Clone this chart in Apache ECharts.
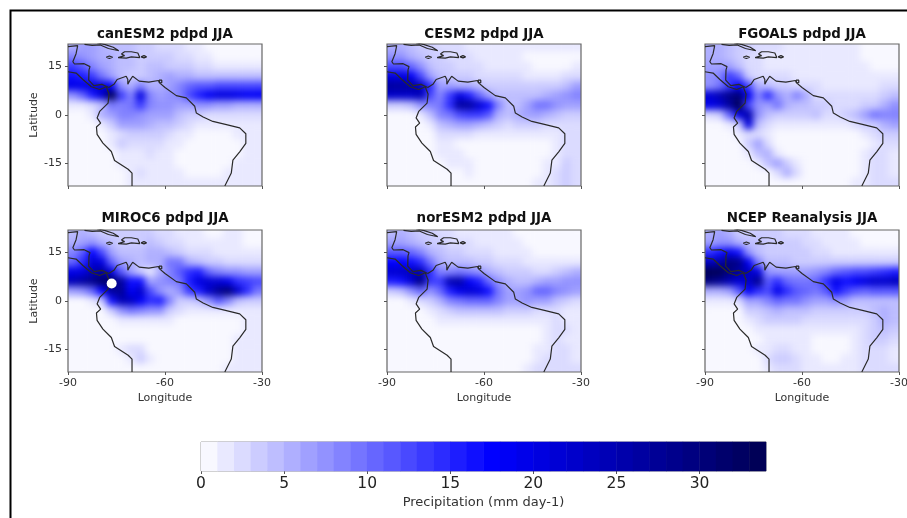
<!DOCTYPE html>
<html><head><meta charset="utf-8">
<style>
html,body{margin:0;padding:0;background:#fff;width:907px;height:518px;overflow:hidden}
#wrap{position:absolute;left:0;top:0;width:907px;height:518px;
clip-path:path('M68 44H262V186H68Z M387 44H581V186H387Z M705 44H899V186H705Z M68 230H262V372H68Z M387 230H581V372H387Z M705 230H899V372H705Z')}
#fields{position:absolute;left:0;top:0;width:907px;height:518px;filter:blur(3.6px)}
#overlay{position:absolute;left:0;top:0;width:907px;height:518px;filter:blur(0.55px)}
</style>
<script src="https://cdn.jsdelivr.net/npm/echarts@6/dist/echarts.min.js"></script>
</head><body>
<div id="wrap"><div id="fields"></div></div>
<div id="overlay"></div>
<script>
const longitudes=[-88.5,-85.5,-82.5,-79.5,-76.5,-73.5,-70.5,-67.5,-64.5,-61.5,-58.5,-55.5,-52.5,-49.5,-46.5,-43.5,-40.5,-37.5,-34.5,-31.5];
const latitudes=[21,18,15,12,9,6,3,0,-3,-6,-9,-12,-15,-18,-21];
const panelTitles=['canESM2 pdpd JJA','CESM2 pdpd JJA','FGOALS pdpd JJA','MIROC6 pdpd JJA','norESM2 pdpd JJA','NCEP Reanalysis JJA'];
const canESM2=[
[5,6,6,5,4,4,4,3,3,2,2,2,1,1,0,0,0,0,0,0],
[8,7,6,5,5,4,4,3,3,3,3,2,2,1,1,0,0,0,0,0],
[13,11,8,6,5,4,4,3,4,4,3,3,3,2,2,1,1,1,1,1],
[16,15,13,9,6,4,3,3,4,5,6,5,5,4,4,4,4,4,4,4],
[19,19,20,21,17,7,5,8,5,5,6,8,10,11,11,12,12,12,12,12],
[7,10,15,21,34,13,8,20,8,6,7,8,12,15,18,20,20,19,18,18],
[1,1,2,4,9,8,9,13,8,7,7,6,6,7,7,6,6,5,5,5],
[0,0,1,5,6,8,8,7,6,6,6,4,3,3,2,2,2,2,2,2],
[0,0,0,1,3,6,6,6,5,4,4,3,2,1,1,1,1,1,1,1],
[0,0,0,0,1,2,3,3,3,3,2,1,1,0,0,0,0,1,1,1],
[0,0,0,0,1,3,2,2,2,2,1,1,0,0,0,0,0,0,1,1],
[0,0,0,0,0,1,1,1,2,1,1,0,0,0,0,0,0,0,1,1],
[0,0,0,0,0,1,1,1,1,1,1,0,0,0,0,0,0,1,1,1],
[0,0,0,0,0,0,1,2,1,1,1,1,0,0,0,0,1,1,1,1],
[0,0,0,0,0,0,1,1,1,1,1,1,1,1,1,1,1,1,1,1]];
const CESM2=[
[5,5,4,3,3,2,2,2,1,1,1,1,1,1,1,1,1,1,1,1],
[7,7,5,4,3,3,2,2,2,1,1,1,1,1,0,0,0,0,0,0],
[12,12,10,7,4,3,3,2,2,2,1,1,1,1,1,0,0,0,0,1],
[20,20,18,12,6,4,3,3,3,2,2,2,2,2,1,1,1,1,2,2],
[26,26,26,23,14,6,6,5,5,4,3,3,3,3,3,3,3,3,4,6],
[22,22,22,24,12,8,13,20,15,10,6,4,4,4,4,4,5,6,7,8],
[3,3,4,7,8,9,14,26,26,21,16,8,4,4,6,9,9,7,6,6],
[0,0,0,1,4,8,9,12,13,13,11,5,4,5,6,6,5,4,3,3],
[0,0,0,0,1,4,5,6,6,5,4,3,2,3,3,3,2,2,2,2],
[0,0,0,0,0,2,2,2,2,1,1,1,1,1,1,1,1,1,2,2],
[0,0,0,0,0,1,1,0,0,0,0,0,0,0,0,0,0,1,2,2],
[0,0,0,0,0,1,1,1,0,0,0,0,0,0,0,0,0,1,2,2],
[0,0,0,0,0,0,1,1,1,0,0,0,0,0,0,0,1,1,3,2],
[0,0,0,0,0,0,0,0,1,0,0,0,0,0,0,0,1,2,3,2],
[0,0,0,0,0,0,0,0,0,0,0,0,0,0,0,1,1,2,3,2]];
const FGOALS=[
[5,5,4,3,3,2,2,2,1,1,1,1,1,1,1,1,0,0,0,0],
[5,5,4,3,2,2,1,1,1,1,1,1,1,1,1,1,0,0,0,0],
[6,6,6,4,2,2,1,1,1,1,1,1,1,1,1,1,1,0,0,0],
[7,8,13,10,3,2,2,2,2,1,1,1,1,1,1,1,1,1,1,1],
[7,9,13,18,12,5,4,3,3,2,2,2,1,1,1,1,1,1,2,2],
[21,24,28,30,18,8,14,7,5,8,5,2,2,2,2,2,2,2,3,4],
[19,21,26,33,12,7,6,9,5,4,4,3,3,2,2,2,3,3,5,7],
[2,3,10,20,25,7,4,3,3,3,3,4,2,2,3,4,6,9,8,8],
[0,0,1,3,20,4,2,1,1,1,1,1,1,1,1,2,3,3,5,6],
[0,0,0,1,2,2,1,0,0,0,0,0,0,0,0,0,1,2,3,3],
[0,0,0,0,3,6,2,0,0,0,0,0,0,0,0,0,0,1,2,2],
[0,0,0,0,1,4,5,1,0,0,0,0,0,0,0,0,1,2,2,1],
[0,0,0,0,0,1,4,6,3,1,0,0,0,0,0,0,1,2,2,1],
[0,0,0,0,0,0,0,2,5,2,0,0,0,0,0,0,1,2,2,1],
[0,0,0,0,0,0,0,0,0,0,0,0,0,0,0,1,1,2,2,2]];
const MIROC6=[
[4,5,4,3,3,3,3,3,3,2,2,1,1,1,0,0,1,1,0,0],
[5,6,7,5,4,3,3,3,4,3,2,2,1,1,1,1,1,1,0,0],
[8,11,17,12,6,4,4,4,5,5,4,3,2,2,2,1,1,1,1,1],
[10,14,21,20,10,6,5,4,5,5,9,9,5,4,3,3,2,2,2,2],
[19,20,24,26,20,11,6,3,1,5,8,11,14,15,10,8,7,7,6,6],
[24,26,28,31,32,26,16,16,6,7,8,9,15,20,21,21,19,14,13,12],
[6,7,10,17,26,27,18,22,12,7,5,7,13,15,22,27,30,22,14,9],
[0,0,1,3,16,24,23,18,14,15,8,3,3,4,7,11,8,4,3,3],
[0,0,0,0,3,7,9,8,7,7,3,2,1,1,1,1,1,1,1,1],
[0,0,0,0,0,1,1,1,1,1,1,0,0,0,0,0,0,0,1,1],
[0,0,0,0,0,0,0,0,0,0,0,0,0,0,0,0,0,0,1,1],
[0,0,0,0,0,0,0,0,0,0,0,0,0,0,0,0,0,1,1,1],
[0,0,0,0,0,1,2,2,0,0,0,0,0,0,0,0,0,1,1,1],
[0,0,0,0,0,0,1,3,1,0,0,0,0,0,0,0,0,1,1,1],
[0,0,0,0,0,0,0,0,0,0,0,0,0,0,0,0,1,1,1,1]];
const norESM2=[
[4,5,4,3,3,2,2,1,1,1,1,1,1,0,0,0,0,0,0,0],
[6,6,5,4,3,3,2,2,2,1,1,1,1,1,0,0,0,0,0,0],
[11,11,10,8,5,4,3,3,2,2,2,1,1,1,1,0,0,0,0,0],
[17,17,16,14,9,5,4,4,4,3,3,2,2,2,1,1,1,1,1,1],
[21,22,23,24,14,8,8,9,8,7,5,4,3,3,3,2,2,3,4,5],
[15,16,21,29,13,13,24,25,18,15,10,7,5,4,4,5,6,6,7,7],
[3,4,7,10,7,10,15,19,21,20,16,9,6,6,7,10,10,8,7,6],
[0,0,1,2,3,5,8,9,10,10,10,8,6,6,7,6,6,4,3,2],
[0,0,0,0,1,2,3,4,4,4,4,4,3,3,3,2,2,2,1,1],
[0,0,0,0,0,1,1,1,1,1,1,1,1,1,1,1,1,2,1,1],
[0,0,0,0,0,0,0,0,0,0,0,0,0,0,0,0,1,2,2,1],
[0,0,0,0,0,0,0,0,0,0,0,0,0,0,0,0,1,2,1,1],
[0,0,0,0,0,0,0,0,0,0,0,0,0,0,0,1,1,2,2,1],
[0,0,0,0,0,0,0,0,0,0,0,0,0,0,0,1,2,2,2,1],
[0,0,0,0,0,0,0,0,0,0,0,0,0,0,1,2,2,2,2,2]];
const NCEP=[
[5,6,5,3,3,3,3,3,2,2,2,1,1,1,1,0,0,0,0,0],
[6,7,7,5,4,4,3,3,3,3,2,2,1,1,1,1,0,0,0,0],
[14,16,19,16,7,4,3,3,3,3,3,2,2,1,1,1,1,1,1,1],
[23,25,29,28,18,8,4,4,4,3,3,3,3,3,3,3,3,3,3,3],
[33,33,29,26,23,20,7,6,6,6,6,7,8,10,11,12,12,13,14,15],
[29,27,24,21,22,28,11,14,10,9,9,10,14,19,16,18,20,22,22,23],
[5,5,6,11,18,14,12,19,14,11,10,9,11,16,13,11,10,11,11,11],
[1,1,1,2,6,6,8,10,9,9,7,6,6,7,6,4,4,4,4,4],
[0,0,0,0,3,3,4,5,4,4,4,3,3,3,3,3,3,4,5,4],
[0,0,0,0,1,2,3,3,3,3,2,2,2,2,2,2,2,3,5,4],
[0,0,0,0,0,1,1,1,1,1,1,1,1,1,1,1,2,3,4,3],
[0,0,0,0,0,0,1,1,1,1,1,0,0,0,0,1,2,3,3,2],
[0,0,0,0,0,1,1,2,2,1,1,0,0,0,0,1,2,2,2,1],
[0,0,0,0,0,0,2,3,3,2,1,1,0,0,1,1,2,2,2,1],
[0,0,0,0,0,0,1,2,2,2,1,1,1,1,1,1,2,2,2,2]];
const panelFields=[canESM2,CESM2,FGOALS,MIROC6,norESM2,NCEP];
const saturatedSpot=[[-76.5,5.4]];
const colourbarLevels=[0,1,2,3,4,5,6,7,8,9,10,11,12,13,14,15,16,17,18,19,20,21,22,23,24,25,26,27,28,29,30,31,32,33];
const colourbarTicks=[0,5,10,15,20,25,30];
const lonTicks=[-90,-60,-30];
const latTicks=[-15,0,15];
const coastSouthAmericaPacific=[[-70.2,-22],[-70.2,-18],[-71.4,-16.8],[-75.6,-14.1],[-76.6,-11.3],[-79.2,-8.7],[-81,-6],[-81.2,-3.7],[-79.9,-2.5],[-81,-0.9],[-80.2,1.1],[-77.6,3.7],[-77.3,6.5],[-77.9,8],[-78.1,8.75],[-80.2,7.9],[-82.8,8.75],[-85.4,11],[-87.5,13],[-90,13.4]];
const coastCaribbeanIsthmus=[[-77.4,8.5],[-79.5,9.5],[-82,9.1],[-83.6,10.8],[-83.5,14],[-83.2,15],[-85,15.9],[-88,15.8],[-88.5,16.5],[-87.5,19],[-87,21.5],[-90,21.2]];
const coastAtlantic=[[-77.4,8.5],[-75.8,9.5],[-74.8,11],[-72,12],[-71.5,11],[-71.5,9.5],[-71,10.5],[-70,12],[-68,10.5],[-65,10.2],[-62,10.7],[-61.5,9.8],[-60,8.5],[-56.5,6],[-53.4,5.3],[-50.8,2.7],[-50.3,0.6],[-48.2,-0.6],[-45.2,-2],[-41,-3],[-36.9,-4],[-35,-5.8],[-35,-8.8],[-36.9,-11.4],[-39,-14],[-39.5,-18],[-41.5,-22]];
const coastTrinidad=[[-61.8,10],[-61,10],[-61,10.8],[-61.8,10.8],[-61.8,10]];
const coastCuba=[[-84.9,21.9],[-82.5,21.6],[-80,21.7],[-77.5,20.6],[-74.3,19.9],[-74.2,20.3],[-76,21],[-78.5,21.8],[-81,22.4]];
const coastHispaniola=[[-73.5,18.9],[-72.5,19.6],[-70.4,19.6],[-68.4,19.2],[-67.8,17.8],[-70.4,18],[-72,17.6],[-74.5,17.8],[-72.5,18.4],[-73.5,18.9]];
const coastJamaica=[[-78.2,17.9],[-77.2,18.3],[-76.2,17.9],[-77.2,17.5],[-78.2,17.9]];
const coastPuertoRico=[[-67.4,18],[-66.5,18.4],[-65.7,18],[-66.5,17.7],[-67.4,18]];
const coastlines=[coastSouthAmericaPacific,coastCaribbeanIsthmus,coastAtlantic,coastTrinidad,coastCuba,coastHispaniola,coastJamaica,coastPuertoRico];

const plotLefts=[68,387,705], plotTops=[44,230], titleCentres=[35,219], plotW=194, plotH=142;
const mapColours=['#f8f8ff','#0000ff','#00004d'];
const FONT='DejaVu Sans';
const cellPx=plotW/20, rowPx=plotH/14.667;
const fields=echarts.init(document.getElementById('fields'));
const overlay=echarts.init(document.getElementById('overlay'));
const lonCats=[-91.5,...longitudes,-28.5], latCats=[24,...latitudes,-24];
const clamp=(v,n)=>Math.max(0,Math.min(n-1,v));
const fg={grid:[],xAxis:[],yAxis:[],series:[]};
const ov={title:[],grid:[],xAxis:[],yAxis:[],series:[]};
panelFields.forEach((f,p)=>{
  const row=p<3?0:1,L=plotLefts[p%3],T=plotTops[row];
  fg.grid.push({left:L-cellPx,top:T-rowPx*1.1667,width:plotW+2*cellPx,height:rowPx*17,outerBoundsMode:'none'});
  fg.xAxis.push({type:'category',gridIndex:p,data:lonCats,show:false});
  fg.yAxis.push({type:'category',gridIndex:p,data:latCats,inverse:true,show:false});
  const d=[];
  lonCats.forEach((_,i)=>latCats.forEach((_,j)=>{
    d.push([i,j,f[clamp(j-1,latitudes.length)][clamp(i-1,longitudes.length)]]);
  }));
  fg.series.push({type:'heatmap',xAxisIndex:p,yAxisIndex:p,data:d,progressive:0,animation:false});
  const bottom=p>=3,left=p%3===0;
  ov.title.push({text:panelTitles[p],left:L+plotW/2,top:titleCentres[row]-7,textAlign:'center',padding:0,
    textStyle:{fontFamily:FONT,fontWeight:'bold',fontSize:13.4,color:'#111'}});
  ov.grid.push({left:L,top:T,width:plotW,height:plotH,show:true,borderColor:'#666',borderWidth:1.2,backgroundColor:'transparent',outerBoundsMode:'none'});
  ov.xAxis.push({type:'value',gridIndex:p,min:-90,max:-30,interval:30,position:'bottom',
    name:bottom?'Longitude':'',nameLocation:'middle',nameGap:21,nameTextStyle:{fontFamily:FONT,fontSize:11,color:'#333'},
    axisLine:{show:false,onZero:false},splitLine:{show:false},
    axisTick:{show:true,length:3,lineStyle:{color:'#555'}},
    axisLabel:{show:bottom,fontFamily:FONT,fontSize:11,color:'#333',margin:6,customValues:lonTicks}});
  ov.yAxis.push({type:'value',gridIndex:p,min:-22,max:22,position:'left',
    name:left?'Latitude':'',nameLocation:'middle',nameGap:28,nameRotate:90,nameTextStyle:{fontFamily:FONT,fontSize:11,color:'#333'},
    axisLine:{show:false,onZero:false},splitLine:{show:false},
    axisTick:{show:true,length:3,lineStyle:{color:'#555'},customValues:latTicks},
    axisLabel:{show:left,fontFamily:FONT,fontSize:11,color:'#333',margin:6,customValues:latTicks}});
  coastlines.forEach(c=>ov.series.push({type:'line',xAxisIndex:p,yAxisIndex:p,data:c,showSymbol:false,symbol:'none',silent:true,
    lineStyle:{color:'#2a2a2a',width:1.2},clip:true,animation:false,z:3}));
  if(p===3) ov.series.push({type:'scatter',xAxisIndex:p,yAxisIndex:p,data:saturatedSpot,symbolSize:10,itemStyle:{color:'#fff',opacity:1},z:4,animation:false});
});
// colour bar
const cb=6;
ov.grid.push({left:201,top:442,width:565,height:29,show:true,borderColor:'#888',borderWidth:1,backgroundColor:'transparent',outerBoundsMode:'none'});
ov.xAxis.push({type:'category',gridIndex:cb,data:colourbarLevels,show:false});
ov.yAxis.push({type:'category',gridIndex:cb,data:['bar'],show:false});
ov.xAxis.push({type:'value',gridIndex:cb,min:0,max:34,position:'bottom',
  name:'Precipitation (mm day-1)',nameLocation:'middle',nameGap:25,nameTextStyle:{fontFamily:FONT,fontSize:13,color:'#333'},
  axisLine:{show:false,onZero:false},splitLine:{show:false},
  axisTick:{show:true,length:3,lineStyle:{color:'#555'},customValues:colourbarTicks},
  axisLabel:{fontFamily:FONT,fontSize:15.5,color:'#222',margin:5,customValues:colourbarTicks}});
ov.series.push({type:'heatmap',xAxisIndex:6,yAxisIndex:6,data:colourbarLevels.map((v,i)=>[i,0,v]),progressive:0,animation:false,z:1});
ov.series.push({type:'line',xAxisIndex:7,yAxisIndex:6,data:[],silent:true});

fields.setOption({animation:false,grid:fg.grid,xAxis:fg.xAxis,yAxis:fg.yAxis,
  visualMap:{show:false,type:'continuous',min:0,max:34,seriesIndex:fg.series.map((_,i)=>i),inRange:{color:mapColours}},
  series:fg.series});
const hmIndex=ov.series.length-2;
overlay.setOption({animation:false,backgroundColor:'transparent',title:ov.title,grid:ov.grid,xAxis:ov.xAxis,yAxis:ov.yAxis,
  visualMap:{show:false,type:'continuous',min:0,max:34,seriesIndex:hmIndex,inRange:{color:mapColours}},
  graphic:[{type:'polyline',shape:{points:[[10.5,520],[10.5,10.5],[910,10.5]]},style:{stroke:'#000',lineWidth:2,fill:null},silent:true}],
  series:ov.series});
</script>
</body></html>
